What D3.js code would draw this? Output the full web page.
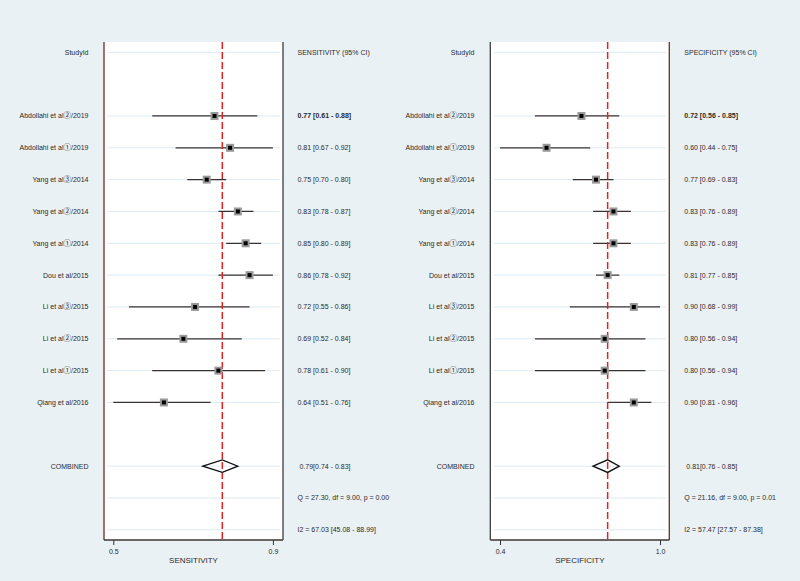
<!DOCTYPE html>
<html><head><meta charset="utf-8">
<script src="https://cdn.jsdelivr.net/npm/d3@7"></script>
<style>
html,body{margin:0;padding:0;background:#eaf1f4;}
svg{display:block;}
text{font-family:"Liberation Sans",Arial,sans-serif;fill:#2a2a2a;}
</style></head><body>
<svg id="c" width="800" height="581"></svg>
<script>
const studies = ["Abdollahi et al②/2019","Abdollahi et al①/2019","Yang et al③/2014","Yang et al②/2014","Yang et al①/2014","Dou et al/2015","Li et al③/2015","Li et al②/2015","Li et al①/2015","Qiang et al/2016"];
const sens   = [0.77,0.81,0.75,0.83,0.85,0.86,0.72,0.69,0.78,0.64];
const sensLo = [0.61,0.67,0.70,0.78,0.80,0.78,0.55,0.52,0.61,0.51];
const sensHi = [0.88,0.92,0.80,0.87,0.89,0.92,0.86,0.84,0.90,0.76];
const spec   = [0.72,0.60,0.77,0.83,0.83,0.81,0.90,0.80,0.80,0.90];
const specLo = [0.56,0.44,0.69,0.76,0.76,0.77,0.68,0.56,0.56,0.81];
const specHi = [0.85,0.75,0.83,0.89,0.89,0.85,0.99,0.94,0.94,0.96];
const sensCombined = [0.79,0.74,0.83];
const specCombined = [0.81,0.76,0.85];
const sensStats = ["Q = 27.30, df = 9.00, p =  0.00","I2 = 67.03 [45.08 - 88.99]"];
const specStats = ["Q = 21.16, df = 9.00, p =  0.01","I2 = 57.47 [27.57 - 87.38]"];
const sensTickLabels = ["0.5","0.9"];
const specTickLabels = ["0.4","1.0"];

const svg = d3.select("#c");
const f2 = d3.format(".2f");
const y = d3.scaleLinear().domain([0,15]).range([52.3,529.8]);
const plotTop = 42, plotBottom = 540;

function labelText(sel, s){
  // split so circled digits use a font with full-size glyphs
  const parts = s.split(/([①②③])/);
  parts.forEach(p=>{
    if(!p) return;
    const t = sel.append("tspan").text(p);
    if(/[①②③]/.test(p)) t.attr("font-family","Noto Sans CJK SC, DejaVu Sans, sans-serif").attr("font-size",7.5);
  });
}

function panel(o){
  const g = svg.append("g");
  const lo = d3.min(o.lo), hi = d3.max(o.hi);
  const x = d3.scaleLinear().domain([lo,hi]).range(o.range);
  g.append("rect").attr("x",o.x0).attr("y",plotTop).attr("width",o.x1-o.x0).attr("height",plotBottom-plotTop).attr("fill","#fff");
  const gridRows = [0].concat(d3.range(2,12)).concat([13,14,15]);
  g.selectAll(".grid").data(gridRows).join("line")
    .attr("x1",o.x0+3).attr("x2",o.x1-3).attr("y1",d=>y(d)).attr("y2",d=>y(d))
    .attr("stroke","#dcebf5").attr("stroke-width",1);
  g.append("text").attr("x",o.lx).attr("y",y(0)).attr("dy","0.35em").attr("text-anchor","end").attr("font-size",7).text("StudyId");
  g.append("text").attr("x",o.vx).attr("y",y(0)).attr("dy","0.35em").attr("font-size",7).text(o.header);
  studies.forEach((s,i)=>{
    const r = i+2;
    const t = g.append("text").attr("x",o.lx).attr("y",y(r)).attr("dy","0.35em").attr("text-anchor","end").attr("font-size",7);
    labelText(t, s);
    g.append("text").attr("x",o.vx).attr("y",y(r)).attr("dy","0.35em").attr("font-size",7)
      .attr("font-weight",i===0?"bold":"normal")
      .text(`${f2(o.est[i])} [${f2(o.lo[i])} - ${f2(o.hi[i])}]`);
  });
  g.selectAll(".ci").data(o.est).join("line")
    .attr("x1",(d,i)=>x(o.lo[i])).attr("x2",(d,i)=>x(o.hi[i]))
    .attr("y1",(d,i)=>y(i+2)).attr("y2",(d,i)=>y(i+2))
    .attr("stroke","#3a3232").attr("stroke-width",1.2);
  g.append("line").attr("x1",x(o.comb[0])).attr("x2",x(o.comb[0])).attr("y1",plotTop).attr("y2",plotBottom)
    .attr("stroke","#e0231f").attr("stroke-width",1.5).attr("stroke-dasharray","7,3");
  g.selectAll(".box").data(o.est).join("rect")
    .attr("x",d=>x(d)-4).attr("y",(d,i)=>y(i+2)-4).attr("width",8).attr("height",8)
    .attr("fill","#9a9a9a");
  g.selectAll(".dot").data(o.est).join("rect")
    .attr("x",d=>x(d)-2).attr("y",(d,i)=>y(i+2)-2).attr("width",4).attr("height",4)
    .attr("fill","#000");
  const cy = y(13);
  g.append("path").attr("d",`M${x(o.comb[1])},${cy} L${x(o.comb[0])},${cy-6.3} L${x(o.comb[2])},${cy} L${x(o.comb[0])},${cy+6.3} Z`)
    .attr("fill","none").attr("stroke","#111").attr("stroke-width",1.3);
  g.append("text").attr("x",o.lx).attr("y",cy).attr("dy","0.35em").attr("text-anchor","end").attr("font-size",7).text("COMBINED");
  g.append("text").attr("x",o.vx+2).attr("y",cy).attr("dy","0.35em").attr("font-size",7)
    .text(`${f2(o.comb[0])}[${f2(o.comb[1])} - ${f2(o.comb[2])}]`);
  o.stats.forEach((s,k)=>{
    g.append("text").attr("x",o.vx).attr("y",y(14+k)).attr("dy","0.35em").attr("font-size",7).text(s);
  });
  g.append("line").attr("x1",o.x0).attr("x2",o.x0).attr("y1",plotTop).attr("y2",plotBottom).attr("stroke",o.lc).attr("stroke-width",1.3);
  g.append("line").attr("x1",o.x1).attr("x2",o.x1).attr("y1",plotTop).attr("y2",plotBottom).attr("stroke",o.rc).attr("stroke-width",1.3);
  const ax = d3.axisBottom(x).tickValues([lo,hi]).tickSize(5).tickPadding(4)
    .tickFormat((d,i)=>o.tickLabels[i]);
  const axg = g.append("g").attr("transform",`translate(0,${plotBottom})`).call(ax);
  axg.select(".domain").remove();
  axg.append("line").attr("x1",o.x0).attr("x2",o.x1).attr("y1",0).attr("y2",0).attr("stroke","#3d3535").attr("stroke-width",1.3);
  axg.selectAll(".tick line").attr("stroke","#333");
  axg.selectAll(".tick text").attr("font-size",7).attr("fill","#2a2a2a").attr("font-family","Liberation Sans, Arial, sans-serif");
  g.append("text").attr("x",(o.x0+o.x1)/2).attr("y",563).attr("text-anchor","middle").attr("font-size",8).text(o.title);
}

panel({x0:104,x1:283,range:[113.3,272.9],lx:88.5,vx:297.5,est:sens,lo:sensLo,hi:sensHi,comb:sensCombined,stats:sensStats,
  header:"SENSITIVITY (95% CI)",title:"SENSITIVITY",tickLabels:sensTickLabels,lc:"#6e2c24",rc:"#3d3d3d"});
panel({x0:490.3,x1:669.3,range:[500,660],lx:474.5,vx:684.3,est:spec,lo:specLo,hi:specHi,comb:specCombined,stats:specStats,
  header:"SPECIFICITY (95% CI)",title:"SPECIFICITY",tickLabels:specTickLabels,lc:"#3d3d3d",rc:"#6e2c24"});
</script>
</body></html>
